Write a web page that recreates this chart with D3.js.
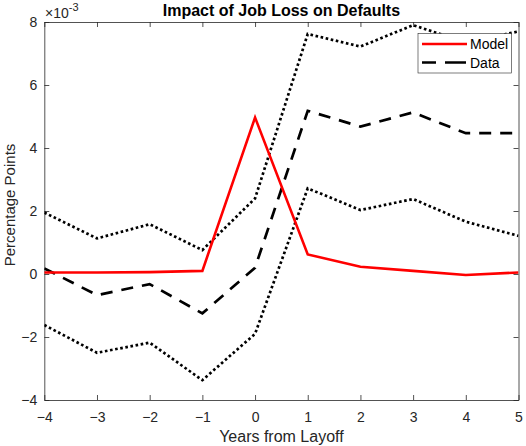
<!DOCTYPE html>
<html><head><meta charset="utf-8">
<script src="https://cdn.jsdelivr.net/npm/d3@7"></script>
<style>body{margin:0;background:#fff;font-family:"Liberation Sans",Arial,sans-serif;}</style>
</head><body><svg id="c" width="526" height="446"></svg>
<script>
const years = [-4,-3,-2,-1,0,1,2,3,4,5];
const model = [0.05,0.05,0.06,0.1,4.97,0.62,0.23,0.1,-0.03,0.05];
const dataMean = [0.18,-0.67,-0.32,-1.25,0.2,5.18,4.68,5.13,4.47,4.47];
const dataUpper = [1.95,1.13,1.58,0.76,2.4,7.62,7.22,7.9,7.35,7.7];
const dataLower = [-1.62,-2.5,-2.18,-3.37,-1.9,2.72,2.03,2.38,1.66,1.21];
const xTicks = [-4,-3,-2,-1,0,1,2,3,4,5];
const yTicks = [-4,-2,0,2,4,6,8];
const legendLabels = ["Model","Data"];

const svg = d3.select("#c");
const L=44.3, R=518.5, T=22, B=400;
const x = d3.scaleLinear().domain([-4,5]).range([L,R]);
const y = d3.scaleLinear().domain([-4,8]).range([B,T]);
const axCol = "#262626";
const font = "Liberation Sans, Arial, sans-serif";

svg.append("clipPath").attr("id","clip").append("rect").attr("x",L).attr("y",T).attr("width",R-L).attr("height",B-T);

const xb = svg.append("g").attr("transform",`translate(0,${B})`).call(d3.axisBottom(x).tickValues(xTicks).tickSizeInner(-5).tickSizeOuter(0).tickPadding(12));
const xt = svg.append("g").attr("transform",`translate(0,${T})`).call(d3.axisTop(x).tickValues(xTicks).tickSizeInner(-5).tickSizeOuter(0).tickFormat(""));
const yl = svg.append("g").attr("transform",`translate(${L},0)`).call(d3.axisLeft(y).tickValues(yTicks).tickSizeInner(-5).tickSizeOuter(0).tickPadding(7));
const yr = svg.append("g").attr("transform",`translate(${R},0)`).call(d3.axisRight(y).tickValues(yTicks).tickSizeInner(-5).tickSizeOuter(0).tickFormat(""));
[xb,xt,yl,yr].forEach(a=>{
  a.selectAll("path").attr("stroke",axCol).attr("stroke-width",0.8);
  a.selectAll("line").attr("stroke",axCol).attr("stroke-width",0.8);
  a.selectAll("text").attr("fill",axCol).style("font-size","14px").style("font-family",font);
});

const line = d3.line().x((d,i)=>x(years[i])).y(d=>y(d));
const plot = svg.append("g").attr("clip-path","url(#clip)");
plot.append("path").attr("d",line(dataUpper)).attr("fill","none").attr("stroke","#000").attr("stroke-width",2.7).attr("stroke-dasharray","2.6,2.6");
plot.append("path").attr("d",line(dataLower)).attr("fill","none").attr("stroke","#000").attr("stroke-width",2.7).attr("stroke-dasharray","2.6,2.6");
plot.append("path").attr("d",line(dataMean)).attr("fill","none").attr("stroke","#000").attr("stroke-width",2.7).attr("stroke-dasharray","12,9");
plot.append("path").attr("d",line(model)).attr("fill","none").attr("stroke","#ff0000").attr("stroke-width",2.6);

svg.append("text").attr("x",(L+R)/2).attr("y",16).attr("text-anchor","middle").style("font-weight","bold").style("font-size","16px").style("font-family",font).attr("fill","#000").text("Impact of Job Loss on Defaults");
const ex = svg.append("text").attr("x",45).attr("y",18).style("font-size","14px").style("font-family",font).attr("fill",axCol);
ex.append("tspan").text("\u00d710");
ex.append("tspan").attr("dy",-7).style("font-size","11px").text("-3");
svg.append("text").attr("x",(L+R)/2).attr("y",442).attr("text-anchor","middle").style("font-size","16px").style("font-family",font).attr("fill",axCol).text("Years from Layoff");
svg.append("text").attr("transform",`translate(15,205) rotate(-90)`).attr("text-anchor","middle").style("font-size","15px").style("font-family",font).attr("fill",axCol).text("Percentage Points");

const lg = svg.append("g").attr("transform","translate(418,33.5)");
lg.append("rect").attr("width",93.5).attr("height",39.5).attr("fill","#fff").attr("stroke","#262626").attr("stroke-width",0.6);
const styles=[{c:"#ff0000",d:null},{c:"#000",d:"14,9,21,100"}];
legendLabels.forEach((t,i)=>{
  const yy = 10.5+i*18.5;
  const ln = lg.append("line").attr("x1",4).attr("x2",49).attr("y1",yy).attr("y2",yy).attr("stroke",styles[i].c).attr("stroke-width",2.6);
  if(styles[i].d) ln.attr("stroke-dasharray",styles[i].d);
  lg.append("text").attr("x",52).attr("y",yy+5).style("font-size","14px").style("font-family",font).attr("fill","#000").text(t);
});
</script></body></html>
